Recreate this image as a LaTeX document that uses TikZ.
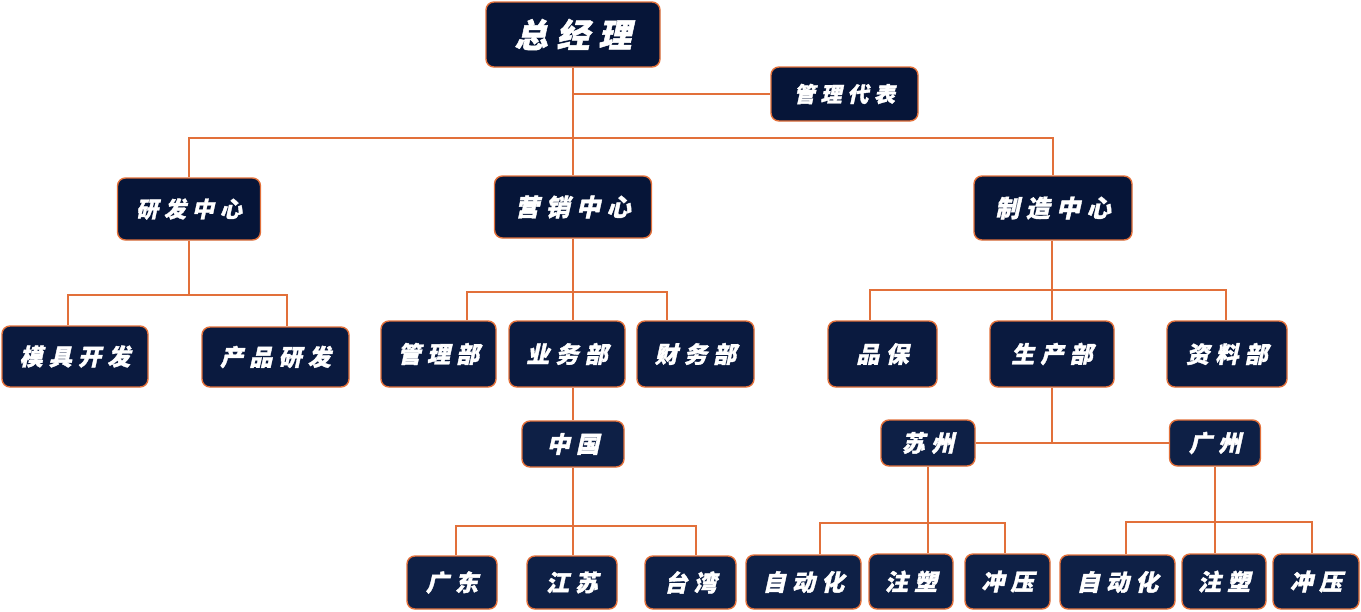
\documentclass[tikz,border=0pt]{standalone}
\usepackage{fontspec}
\newfontfamily\cjk[FakeSlant=0.22,LetterSpace=27,BoldFeatures={FakeBold=1.5}]{Noto Sans CJK SC}
\definecolor{navyA}{HTML}{061538}
\definecolor{navyB}{HTML}{0A1A3F}
\definecolor{navyC}{HTML}{0E2046}
\definecolor{orangeC}{HTML}{E2703A}
\tikzset{
  box/.style={draw=orangeC, line width=1.4pt, fill=navyB, rounded corners=8pt,
    text=white, inner sep=0pt, font=\cjk\bfseries\fontsize{23}{26}\selectfont},
  conn/.style={draw=orangeC, line width=1.8pt},
}
\begin{document}
\begin{tikzpicture}[x=1pt,y=-1pt]
\useasboundingbox (0,0) rectangle (1361,611);
% level 0/1
\node[box, fill=navyA, minimum width=174pt, minimum height=65pt, font=\cjk\bfseries\fontsize{33}{36}\selectfont] (zjl) at (573,34.5) {总经理};
\node[box, fill=navyA, minimum width=147pt, minimum height=54pt, font=\cjk\bfseries\fontsize{21}{24}\selectfont] (glb) at (844.5,94) {管理代表};
\node[box, fill=navyA, minimum width=143pt, minimum height=62pt, font=\cjk\bfseries\fontsize{22}{26}\selectfont] (yf) at (189,209) {研发中心};
\node[box, fill=navyA, minimum width=157pt, minimum height=62pt, font=\cjk\bfseries\fontsize{24}{26}\selectfont] (yx) at (573,207) {营销中心};
\node[box, fill=navyA, minimum width=158pt, minimum height=64pt, font=\cjk\bfseries\fontsize{24}{26}\selectfont] (zz) at (1053,208) {制造中心};
% level 2
\node[box, minimum width=146pt, minimum height=61pt] (mj) at (75,356.5) {模具开发};
\node[box, minimum width=147pt, minimum height=60pt] (cp) at (275.5,357) {产品研发};
\node[box, minimum width=115pt, minimum height=66pt] (gl) at (438.5,354) {管理部};
\node[box, minimum width=116pt, minimum height=66pt] (yw) at (567,354) {业务部};
\node[box, minimum width=117pt, minimum height=66pt] (cw) at (695.5,354) {财务部};
\node[box, minimum width=109pt, minimum height=66pt] (pb) at (882.5,354) {品保};
\node[box, minimum width=124pt, minimum height=66pt] (sc) at (1052,354) {生产部};
\node[box, minimum width=120pt, minimum height=66pt] (zl) at (1227,354) {资料部};
% level 3
\node[box, fill=navyC, minimum width=102pt, minimum height=46pt] (zg) at (573,444) {中国};
\node[box, fill=navyC, minimum width=94pt, minimum height=46pt] (su) at (928,443) {苏州};
\node[box, fill=navyC, minimum width=91pt, minimum height=46pt] (gz) at (1215,443) {广州};
% level 4
\node[box, fill=navyC, minimum width=90pt, minimum height=53pt] (gd) at (452,582.5) {广东};
\node[box, fill=navyC, minimum width=90pt, minimum height=53pt] (js) at (572,582.5) {江苏};
\node[box, fill=navyC, minimum width=91pt, minimum height=53pt] (tw) at (690.5,582.5) {台湾};
\node[box, fill=navyC, minimum width=115pt, minimum height=54pt] (za) at (803.5,582) {自动化};
\node[box, fill=navyC, minimum width=84pt, minimum height=55pt] (zs) at (911,581.5) {注塑};
\node[box, fill=navyC, minimum width=85pt, minimum height=55pt] (cy) at (1007.5,581.5) {冲压};
\node[box, fill=navyC, minimum width=115pt, minimum height=54pt] (zb) at (1117.5,582) {自动化};
\node[box, fill=navyC, minimum width=84pt, minimum height=55pt] (zt) at (1224,581.5) {注塑};
\node[box, fill=navyC, minimum width=86pt, minimum height=55pt] (cz) at (1316,581.5) {冲压};
% bus coordinates
\coordinate (busM) at (573,138);
\coordinate (rep) at (573,94);
\coordinate (yfL) at (68,295);
\coordinate (yfR) at (287,295);
\coordinate (yxL) at (467,292);
\coordinate (yxR) at (667,292);
\coordinate (zzL) at (870,290);
\coordinate (zzR) at (1226,290);
\coordinate (zgL) at (456,526);
\coordinate (zgR) at (696,526);
\coordinate (suL) at (820,523);
\coordinate (suR) at (1005,523);
\coordinate (gzL) at (1126,522);
\coordinate (gzR) at (1312,522);
% connectors
\draw[conn] (zjl.south) -- (busM);
\draw[conn] (rep) -- (glb.west);
\draw[conn] (yf.north) -- (yf.north |- busM) -- (zz.north |- busM) -- (zz.north);
\draw[conn] (busM) -- (yx.north);
\draw[conn] (yf.south) -- (yf.south |- yfL);
\draw[conn] (mj.north -| yfL) -- (yfL) -- (yfR) -- (cp.north -| yfR);
\draw[conn] (yx.south) -- (yx.south |- yxL);
\draw[conn] (gl.north -| yxL) -- (yxL) -- (yxR) -- (cw.north -| yxR);
\draw[conn] (yx.south |- yxL) -- (yw.north -| yx.south);
\draw[conn] (yw.south -| zg.north) -- (zg.north);
\draw[conn] (zg.south) -- (zg.south |- zgL);
\draw[conn] (gd.north -| zgL) -- (zgL) -- (zgR) -- (tw.north -| zgR);
\draw[conn] (zg.south |- zgL) -- (js.north -| zg.south);
\draw[conn] (zz.south -| sc.north) -- (sc.north);
\draw[conn] (sc.north |- zzL) -- (zzL) -- (pb.north -| zzL);
\draw[conn] (sc.north |- zzL) -- (zzR) -- (zl.north -| zzR);
\draw[conn] (sc.south) -- (sc.south |- su.east);
\draw[conn] (su.east) -- (gz.west);
\draw[conn] (su.south) -- (su.south |- suL);
\draw[conn] (za.north -| suL) -- (suL) -- (suR) -- (cy.north -| suR);
\draw[conn] (su.south |- suL) -- (zs.north -| su.south);
\draw[conn] (gz.south) -- (gz.south |- gzL);
\draw[conn] (zb.north -| gzL) -- (gzL) -- (gzR) -- (cz.north -| gzR);
\draw[conn] (gz.south |- gzL) -- (zt.north -| gz.south);
\end{tikzpicture}
\end{document}
